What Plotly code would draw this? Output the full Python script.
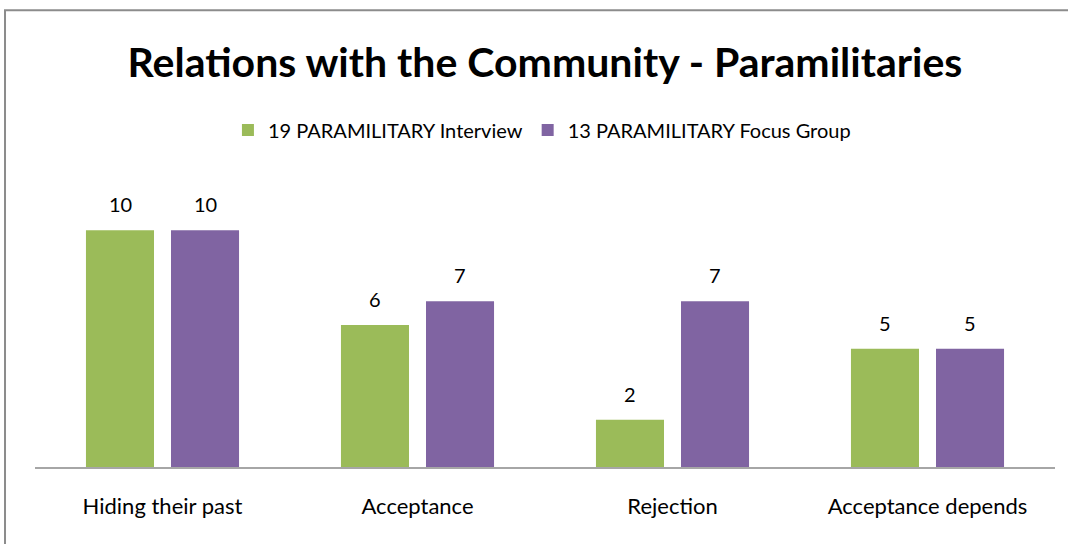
import plotly.graph_objects as go

# Chart data
categories = ["Hiding their past", "Acceptance", "Rejection", "Acceptance depends"]
interview = [10, 6, 2, 5]
focus_group = [10, 7, 7, 5]
series_names = ["19 PARAMILITARY Interview", "13 PARAMILITARY Focus Group"]

GREEN = "#9BBB59"
PURPLE = "#8064A2"
FONT = "Lato, 'Liberation Sans Narrow', sans-serif"

fig = go.Figure()
fig.add_trace(go.Bar(x=categories, y=interview, name=series_names[0],
                     marker=dict(color=GREEN, line=dict(width=0))))
fig.add_trace(go.Bar(x=categories, y=focus_group, name=series_names[1],
                     marker=dict(color=PURPLE, line=dict(width=0))))

# value labels above bars
for vals, shift in [(interview, -42.5), (focus_group, 42.5)]:
    for cat, v in zip(categories, vals):
        fig.add_annotation(x=cat, y=v, text=str(v), showarrow=False,
                           xshift=shift, yshift=26,
                           font=dict(size=20, color="#000000", family=FONT))

# outer chart border (cropped in the reference)
fig.add_shape(type="rect", xref="paper", yref="paper",
              x0=-0.0294, x1=1.3, y0=-1, y1=1.608,
              line=dict(color="#8c8c8c", width=2), layer="below")

fig.update_layout(
    width=1068, height=544,
    margin=dict(l=35, r=13, t=183, b=77),
    paper_bgcolor="white", plot_bgcolor="white",
    barmode="group", bargap=0.333, bargroupgap=0.2,
    title=dict(text="<b>Relations with the Community - Paramilitaries</b>",
               x=0.5, xref="paper", xanchor="center", y=0.884, yanchor="middle",
               font=dict(size=41, color="#000000", family=FONT)),
    legend=dict(orientation="h", x=0.497, xanchor="center", y=1.187, yanchor="middle",
                font=dict(size=20, color="#000000", family=FONT),
                itemwidth=30, traceorder="normal"),
    xaxis=dict(showline=True, linecolor="#a6a6a6", linewidth=2, ticks="",
               tickfont=dict(size=22, color="#000000", family=FONT),
               ticklabelstandoff=19),
    yaxis=dict(range=[0, 12], visible=False, showgrid=False),
    font=dict(family=FONT),
)

# drop the default page margin so the figure sits at the window's corner
fig.write_html("out.html", config={"displayModeBar": False},
               post_script="document.body.style.margin='0';")
